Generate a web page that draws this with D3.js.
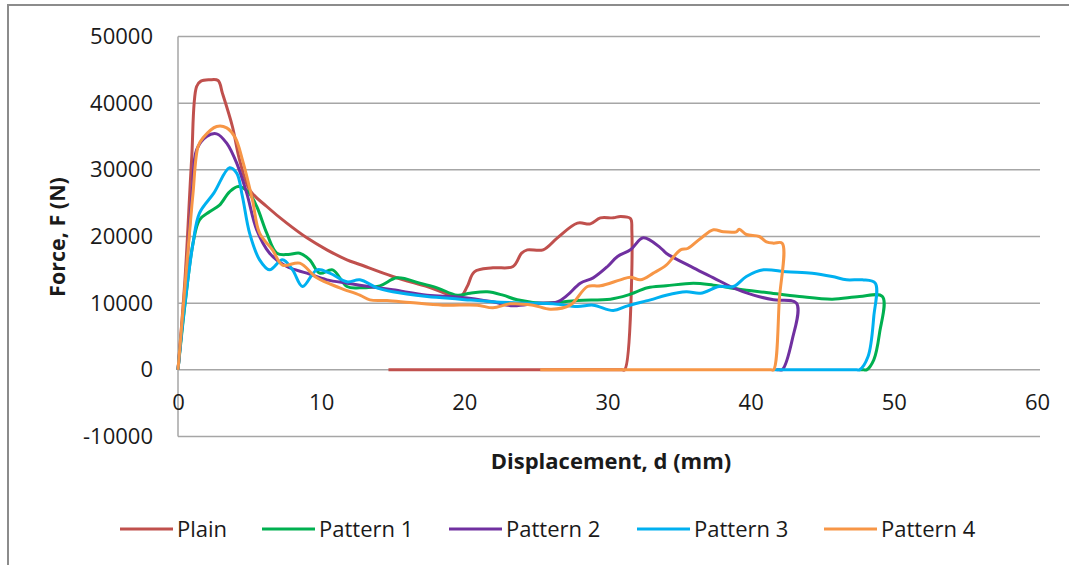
<!DOCTYPE html>
<html>
<head>
<meta charset="utf-8">
<script src="https://cdn.jsdelivr.net/npm/d3@7"></script>
<style>
  body { margin: 0; background: #fff; }
  svg { display: block; font-family: "Open Sans", sans-serif; }
</style>
</head>
<body>
<svg id="chart" width="1069" height="565"></svg>
<script>
// displacement (mm), force (N)
const plain = [[0,0],[0.5,14000],[0.95,31500],[1.3,42500],[1.6,43300],[2.2,43500],[2.8,43400],[3.1,41500],[3.8,36500],[4.3,31500],[5.0,27000],[6.2,24500],[7.6,22000],[9.0,19800],[10.4,18000],[11.8,16500],[12.7,15800],[15.0,14000],[17.4,12500],[19.7,11000],[20.2,12500],[20.7,14700],[22.0,15300],[23.4,15500],[24.0,17500],[24.4,18000],[25.5,18000],[26.5,19800],[27.9,22000],[28.8,21900],[29.5,22800],[30.4,22800],[30.9,23000],[31.6,22700],[31.7,21000],[31.2,0],[31.0,0],[14.7,0]];
const pattern1 = [[0,0],[0.5,10000],[1.05,19000],[1.5,22500],[2.2,23700],[2.9,24700],[3.6,26700],[4.2,27500],[4.9,26700],[5.5,24500],[6.2,20500],[6.9,17500],[7.7,17300],[8.5,17500],[9.2,16500],[9.9,14500],[10.8,15000],[11.8,12500],[12.7,12300],[14.1,12600],[15.3,13800],[16.9,13000],[18.1,12300],[19.5,11200],[20.4,11500],[21.6,11700],[22.7,11200],[23.7,10500],[25.5,10000],[27.9,10400],[30.2,10600],[31.4,11200],[32.8,12300],[34.1,12600],[36.0,13000],[37.4,12700],[39.2,12100],[41.1,11600],[43.4,11000],[45.7,10600],[47.6,11000],[49.2,11000],[49.0,5500],[48.6,1500],[48.1,0],[47.9,0],[47.6,0]];
const pattern2 = [[0,0],[0.5,12000],[1.0,27000],[1.3,33000],[2.0,35000],[2.7,35400],[3.4,34000],[4.1,31000],[4.8,26500],[5.5,21000],[6.4,17500],[7.6,15500],[9.0,14500],[10.4,13500],[11.8,13000],[12.7,12700],[15.0,12000],[17.4,11200],[19.7,10900],[22.0,10200],[23.4,9600],[25.1,10000],[26.5,10200],[27.2,11200],[28.1,13000],[29.0,13800],[30.0,15500],[30.7,17000],[31.6,18000],[32.5,19800],[33.7,18300],[34.1,17500],[36.0,15300],[37.4,13800],[38.8,12300],[40.2,11200],[41.6,10500],[43.2,10000],[42.9,4500],[42.2,0],[42.0,0],[41.8,0]];
const pattern3 = [[0,0],[0.3,6500],[1.05,19000],[1.5,23500],[2.5,26500],[3.6,30300],[4.1,29500],[4.5,26000],[5.0,20500],[5.7,16500],[6.4,15000],[7.3,16500],[8.0,15000],[8.7,12500],[9.7,15000],[10.6,14500],[11.8,13200],[12.7,13500],[13.9,12300],[15.0,11700],[17.4,11000],[19.7,10600],[22.0,10200],[24.4,10000],[26.2,9900],[27.9,9500],[29.0,9700],[30.4,8900],[31.4,9600],[33.0,10500],[34.1,11200],[35.5,11700],[36.5,11500],[37.8,12500],[38.8,12500],[39.7,14000],[40.9,15000],[42.5,14700],[44.3,14500],[45.7,14000],[46.7,13500],[47.8,13500],[48.7,13000],[48.6,8000],[48.2,2000],[47.6,0],[47.4,0],[41.6,0]];
const pattern4 = [[0,0],[0.84,21500],[1.05,26500],[1.4,33500],[1.75,34800],[2.7,36500],[3.4,36300],[4.0,34800],[4.5,31500],[5.2,25500],[5.7,20500],[6.6,18000],[7.3,15700],[8.5,16000],[9.7,13800],[11.3,12300],[12.7,11200],[13.4,10500],[14.6,10400],[16.2,10100],[18.5,9700],[20.9,9700],[22.0,9300],[23.2,9900],[24.8,9700],[26.0,9100],[27.4,9700],[28.6,12500],[29.5,12600],[30.9,13500],[31.6,13900],[32.3,13500],[33.2,14500],[34.1,15700],[35.1,18000],[35.6,18200],[36.5,19700],[37.4,21000],[38.1,20700],[39.0,20700],[39.2,21100],[39.7,20300],[40.6,20000],[41.1,19200],[41.6,19000],[42.2,19000],[42.0,10500],[41.6,0],[41.4,0],[25.3,0]];

const seriesNames = ['Plain', 'Pattern 1', 'Pattern 2', 'Pattern 3', 'Pattern 4'];
const seriesData = [plain, pattern1, pattern2, pattern3, pattern4];
const colors = ['#C0504D', '#00B050', '#7030A0', '#00B0F0', '#F79646'];
const xTicks = [0, 10, 20, 30, 40, 50, 60];
const yTicks = [-10000, 0, 10000, 20000, 30000, 40000, 50000];

const svg = d3.select('#chart');

// outer chart frame
svg.append('rect')
  .attr('x', 8).attr('y', 5)
  .attr('width', 1080).attr('height', 580)
  .style('fill', 'none').style('stroke', '#8c8c8c').style('stroke-width', 2);

const x = d3.scaleLinear().domain([0, 60]).range([178, 1037]);
const y = d3.scaleLinear().domain([-10000, 50000]).range([436.5, 36.5]);

// gridlines
svg.append('g').selectAll('line')
  .data(yTicks)
  .join('line')
  .attr('x1', x(0)).attr('x2', 1040)
  .attr('y1', d => y(d)).attr('y2', d => y(d))
  .style('stroke', '#a6a6a6').style('stroke-width', 1.5);

// vertical axis line
svg.append('line')
  .attr('x1', x(0)).attr('x2', x(0))
  .attr('y1', y(50000)).attr('y2', y(-10000))
  .style('stroke', '#a6a6a6').style('stroke-width', 1.5);

// y tick labels
const yAxis = d3.axisLeft(y).tickValues(yTicks).tickSize(0).tickPadding(25).tickFormat(d => String(d));
svg.append('g')
  .attr('transform', `translate(${x(0)},0)`)
  .call(yAxis)
  .call(g => g.select('.domain').remove())
  .selectAll('text')
  .style('font-family', '"Open Sans", sans-serif')
  .style('font-size', '22px')
  .style('fill', '#1a1a1a');

// x tick labels (axis crosses at 0)
const xAxis = d3.axisBottom(x).tickValues(xTicks).tickSize(0).tickPadding(25);
svg.append('g')
  .attr('transform', `translate(0,${y(0)})`)
  .call(xAxis)
  .call(g => g.select('.domain').remove())
  .selectAll('text')
  .style('font-family', '"Open Sans", sans-serif')
  .style('font-size', '22px')
  .style('fill', '#1a1a1a');

// axis titles
svg.append('text')
  .attr('x', 611).attr('y', 469)
  .attr('text-anchor', 'middle')
  .style('font-size', '22px').style('font-weight', 'bold').style('fill', '#1a1a1a')
  .text('Displacement, d (mm)');

svg.append('text')
  .attr('transform', 'translate(65,237) rotate(-90)')
  .attr('text-anchor', 'middle')
  .style('font-size', '21.5px').style('font-weight', 'bold').style('fill', '#1a1a1a')
  .text('Force, F (N)');

// curves
const line = d3.line()
  .x(d => x(d[0]))
  .y(d => y(d[1]))
  .curve(d3.curveCatmullRom.alpha(0.5));

svg.append('g').selectAll('path')
  .data(seriesData)
  .join('path')
  .attr('d', line)
  .style('fill', 'none')
  .style('stroke', (d, i) => colors[i])
  .style('stroke-width', 3)
  .style('stroke-linejoin', 'round');

// legend
const legendX = [120, 262, 449, 637, 824];
const legend = svg.append('g').selectAll('g')
  .data(seriesNames)
  .join('g')
  .attr('transform', (d, i) => `translate(${legendX[i]},529)`);

legend.append('line')
  .attr('x1', 0).attr('x2', 53)
  .style('stroke', (d, i) => colors[i])
  .style('stroke-width', 3);

legend.append('text')
  .attr('x', 57).attr('dy', '0.35em')
  .style('font-size', '22px').style('fill', '#1a1a1a')
  .text(d => d);
</script>
</body>
</html>
